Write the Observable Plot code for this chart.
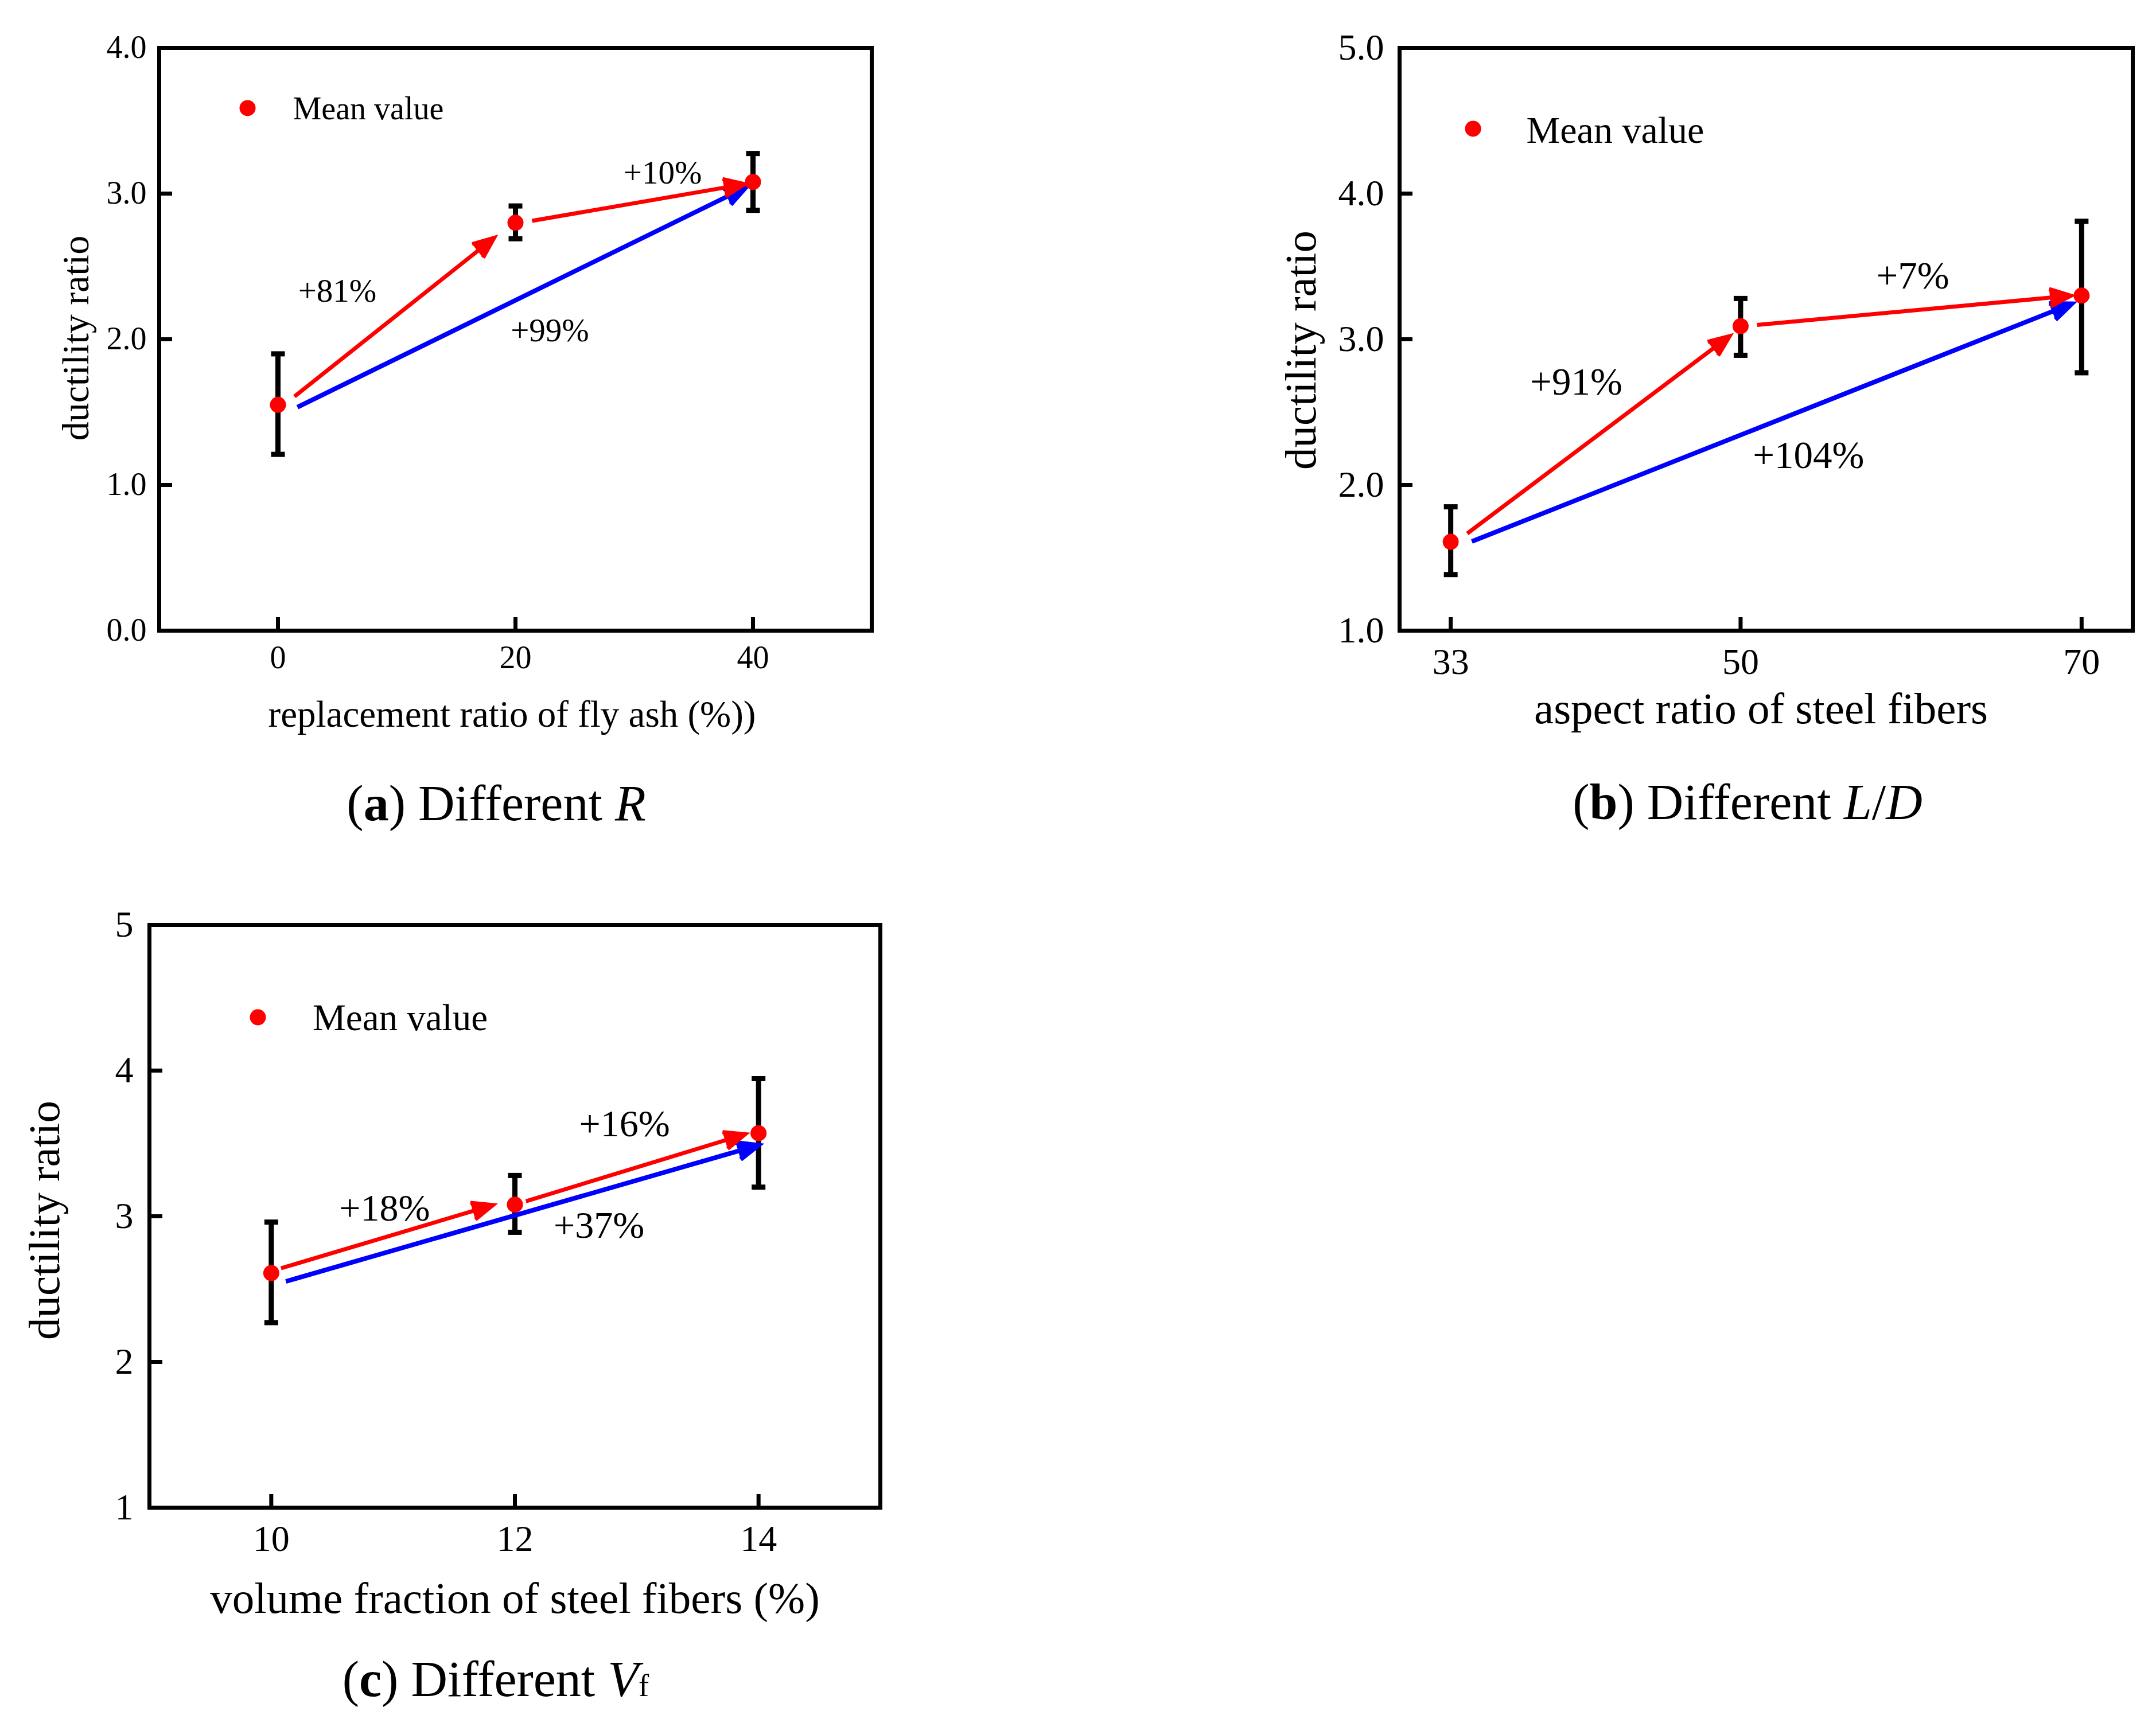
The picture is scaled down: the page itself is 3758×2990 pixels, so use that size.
<!DOCTYPE html>
<html>
<head>
<meta charset="utf-8">
<script src="https://cdn.jsdelivr.net/npm/d3@7"></script>
<script src="https://cdn.jsdelivr.net/npm/@observablehq/plot@0.6"></script>
<style>
  html, body { margin: 0; padding: 0; background: #fff; }
  #root { position: relative; width: 3758px; height: 2990px; background: #fff;
          font-family: 'Liberation Serif', 'Times New Roman', serif; overflow: hidden; }
  .panel { position: absolute; }
  .cap { position: absolute; width: 1000px; text-align: center; font-size: 88px;
         line-height: 88px; white-space: nowrap; color: #000; }
</style>
</head>
<body>
<div id="root"></div>
<script>
// ---------------- data ----------------
// (a) replacement ratio of fly ash
const ratioR = [0, 20, 40];
const meanR  = [1.55, 2.80, 3.08];
const lowR   = [1.21, 2.69, 2.885];
const highR  = [1.90, 2.915, 3.275];
const xTicksR = [0, 20, 40];
const yTicksR = [0, 1, 2, 3, 4];
const gainLabelsR = ["+81%", "+99%", "+10%"];

// (b) aspect ratio of steel fibers
const ratioLD = [33, 50, 70];
const meanLD  = [1.61, 3.09, 3.30];
const lowLD   = [1.385, 2.89, 2.77];
const highLD  = [1.85, 3.28, 3.81];
const xTicksLD = [33, 50, 70];
const yTicksLD = [1, 2, 3, 4, 5];
const gainLabelsLD = ["+91%", "+104%", "+7%"];

// (c) volume fraction of steel fibers
const ratioVf = [10, 12, 14];
const meanVf  = [2.61, 3.08, 3.57];
const lowVf   = [2.27, 2.89, 3.20];
const highVf  = [2.96, 3.28, 3.945];
const xTicksVf = [10, 12, 14];
const yTicksVf = [1, 2, 3, 4, 5];
const gainLabelsVf = ["+18%", "+37%", "+16%"];

// arrows (start -> tip) and label anchors, in data units
const arrowsR = {
  blue: [{x1: 1.64, y1: 1.534, x2: 39.4, y2: 3.043}],
  red:  [{x1: 1.39, y1: 1.607, x2: 18.2, y2: 2.696}, {x1: 21.4, y1: 2.813, x2: 39.3, y2: 3.065}]
};
const labelAtR = [[5.0, 2.33], [22.9, 2.057], [32.4, 3.14]];
const legendAtR = {dot: [-2.56, 3.587], text: [1.26, 3.58]};

const arrowsLD = {
  blue: [{x1: 34.24, y1: 1.612, x2: 69.43, y2: 3.244}],
  red:  [{x1: 33.97, y1: 1.667, x2: 49.36, y2: 3.022}, {x1: 50.97, y1: 3.098, x2: 69.37, y2: 3.299}]
};
const labelAtLD = [[40.36, 2.705], [53.98, 2.202], [60.1, 3.433]];
const legendAtLD = {dot: [34.31, 4.445], text: [37.44, 4.433]};

const arrowsVf = {
  blue: [{x1: 10.12, y1: 2.553, x2: 14.0, y2: 3.488}],
  red:  [{x1: 10.08, y1: 2.643, x2: 11.82, y2: 3.077}, {x1: 12.09, y1: 3.103, x2: 13.89, y2: 3.563}]
};
const labelAtVf = [[10.93, 3.054], [12.69, 2.935], [12.90, 3.634]];
const legendAtVf = {dot: [9.89, 4.366], text: [10.34, 4.36]};

// ---------------- drawing ----------------
const FONT = "'Liberation Serif', 'Times New Roman', serif";
const capSymbol = {
  draw(ctx, size) {
    const r = Math.sqrt(size / Math.PI);
    ctx.moveTo(-r, 0);
    ctx.lineTo(r, 0);
  }
};

function panel(cfg) {
  const rows = cfg.xs.map((x, i) => ({x, mean: cfg.mean[i], lo: cfg.low[i], hi: cfg.high[i]}));
  const labels = cfg.labels.map((t, i) => ({text: t, x: cfg.labelAt[i][0], y: cfg.labelAt[i][1]}));
  const [mT, mR, mB, mL] = cfg.margins;
  const fw = cfg.width - mL - mR, fh = cfg.height - mT - mB;
  const f = cfg.fonts;
  const arrowOpts = {x1: "x1", y1: "y1", x2: "x2", y2: "y2", headAngle: 45,
    strokeLinecap: "butt", strokeLinejoin: "miter", strokeMiterlimit: 10};
  return Plot.plot({
    width: cfg.width, height: cfg.height,
    marginTop: mT, marginRight: mR, marginBottom: mB, marginLeft: mL,
    x: {domain: cfg.xDomain},
    y: {domain: cfg.yDomain},
    style: {fontFamily: FONT, background: "transparent", overflow: "visible", color: "black"},
    marks: [
      Plot.ruleX(rows, {x: "x", y1: "lo", y2: "hi", stroke: "black", strokeWidth: 9}),
      Plot.dot(rows, {x: "x", y: "lo", symbol: capSymbol, r: 12, stroke: "black", strokeWidth: 9, fill: "none"}),
      Plot.dot(rows, {x: "x", y: "hi", symbol: capSymbol, r: 12, stroke: "black", strokeWidth: 9, fill: "none"}),
      Plot.arrow(cfg.arrows.blue, {...arrowOpts, stroke: "#0000ff", fill: "#0000ff", strokeWidth: 8, headLength: 7.5}),
      Plot.arrow(cfg.arrows.red, {...arrowOpts, stroke: "#ff0000", fill: "#ff0000", strokeWidth: 7, headLength: 8.5}),
      Plot.dot(rows, {x: "x", y: "mean", r: 14, fill: "#ff0000", stroke: "none"}),
      Plot.text(labels, {x: "x", y: "y", text: "text", fontSize: f.note, fill: "black"}),
      Plot.dot([cfg.legendAt.dot], {x: d => d[0], y: d => d[1], r: 14, fill: "#ff0000", stroke: "none"}),
      Plot.text([cfg.legendAt.text], {x: d => d[0], y: d => d[1], text: () => "Mean value",
        textAnchor: "start", fontSize: f.legend, fill: "black"}),
      Plot.frame({stroke: "black", strokeWidth: 7}),
      Plot.tickX(cfg.xTicks, {x: d => d, insetTop: fh - 23, stroke: "black", strokeWidth: 7}),
      Plot.tickY(cfg.yTicks, {y: d => d, insetRight: fw - 23, stroke: "black", strokeWidth: 7}),
      Plot.axisX(cfg.xTicks, {tickSize: 0, tickPadding: cfg.xPad, fontSize: f.tick, label: null,
        tickFormat: d3.format("d")}),
      Plot.axisY(cfg.yTicks, {tickSize: 0, tickPadding: cfg.yPad, fontSize: f.tick, label: null,
        tickFormat: cfg.yFormat}),
      Plot.text([cfg.xTitle], {text: d => d, frameAnchor: "bottom", textAnchor: "middle", lineAnchor: "bottom",
        dx: cfg.xTitleOff[0], dy: cfg.xTitleOff[1], fontSize: f.xTitle, fill: "black"}),
      Plot.text([cfg.yTitle], {text: d => d, frameAnchor: "left", textAnchor: "middle", lineAnchor: "bottom",
        rotate: -90, dx: cfg.yTitleOff[0], dy: cfg.yTitleOff[1], fontSize: f.yTitle, fill: "black"})
    ]
  });
}

const root = document.getElementById("root");
function place(svg, left, top) {
  const d = document.createElement("div");
  d.className = "panel";
  d.style.left = left + "px";
  d.style.top = top + "px";
  d.appendChild(svg);
  root.appendChild(d);
}
function caption(html, centerX, top) {
  const d = document.createElement("div");
  d.className = "cap";
  d.style.left = (centerX - 500) + "px";
  d.style.top = top + "px";
  d.innerHTML = html;
  root.appendChild(d);
}

place(panel({
  xs: ratioR, mean: meanR, low: lowR, high: highR,
  xDomain: [-10, 50], yDomain: [0, 4], xTicks: xTicksR, yTicks: yTicksR, yFormat: d3.format(".1f"),
  width: 1600, height: 1300, margins: [83, 81, 201, 277],
  fonts: {tick: 56, legend: 56, note: 57, xTitle: 65, yTitle: 66},
  xPad: 26, yPad: 22,
  arrows: arrowsR, labels: gainLabelsR, labelAt: labelAtR, legendAt: legendAtR,
  xTitle: "replacement ratio of fly ash (%))", yTitle: "ductility ratio",
  xTitleOff: [-6, 167], yTitleOff: [-124, -2]
}), 0, 0);

place(panel({
  xs: ratioLD, mean: meanLD, low: lowLD, high: highLD,
  xDomain: [30, 73], yDomain: [1, 5], xTicks: xTicksLD, yTicks: yTicksLD, yFormat: d3.format(".1f"),
  width: 1758, height: 1300, margins: [83, 41, 201, 439],
  fonts: {tick: 64, legend: 66, note: 67, xTitle: 77, yTitle: 77},
  xPad: 30, yPad: 27,
  arrows: arrowsLD, labels: gainLabelsLD, labelAt: labelAtLD, legendAt: legendAtLD,
  xTitle: "aspect ratio of steel fibers", yTitle: "ductility ratio",
  xTitleOff: [-9, 161], yTitleOff: [-147, 19]
}), 2000, 0);

place(panel({
  xs: ratioVf, mean: meanVf, low: lowVf, high: highVf,
  xDomain: [9, 15], yDomain: [1, 5], xTicks: xTicksVf, yTicks: yTicksVf, yFormat: d3.format("d"),
  width: 1600, height: 1350, margins: [112, 66, 222, 260],
  fonts: {tick: 64, legend: 65, note: 66, xTitle: 77, yTitle: 77},
  xPad: 30, yPad: 28,
  arrows: arrowsVf, labels: gainLabelsVf, labelAt: labelAtVf, legendAt: legendAtVf,
  xTitle: "volume fraction of steel fibers (%)", yTitle: "ductility ratio",
  xTitleOff: [0, 183], yTitleOff: [-158, 7]
}), 0, 1500);

caption("(<b>a</b>) Different <i>R</i>", 865, 1357);
caption("(<b>b</b>) Different <i>L</i>/<i>D</i>", 3046, 1355);
caption("(<b>c</b>) Different <i>V</i><span style=\"font-size:62%\">f</span>", 864, 2884);
</script>
</body>
</html>
